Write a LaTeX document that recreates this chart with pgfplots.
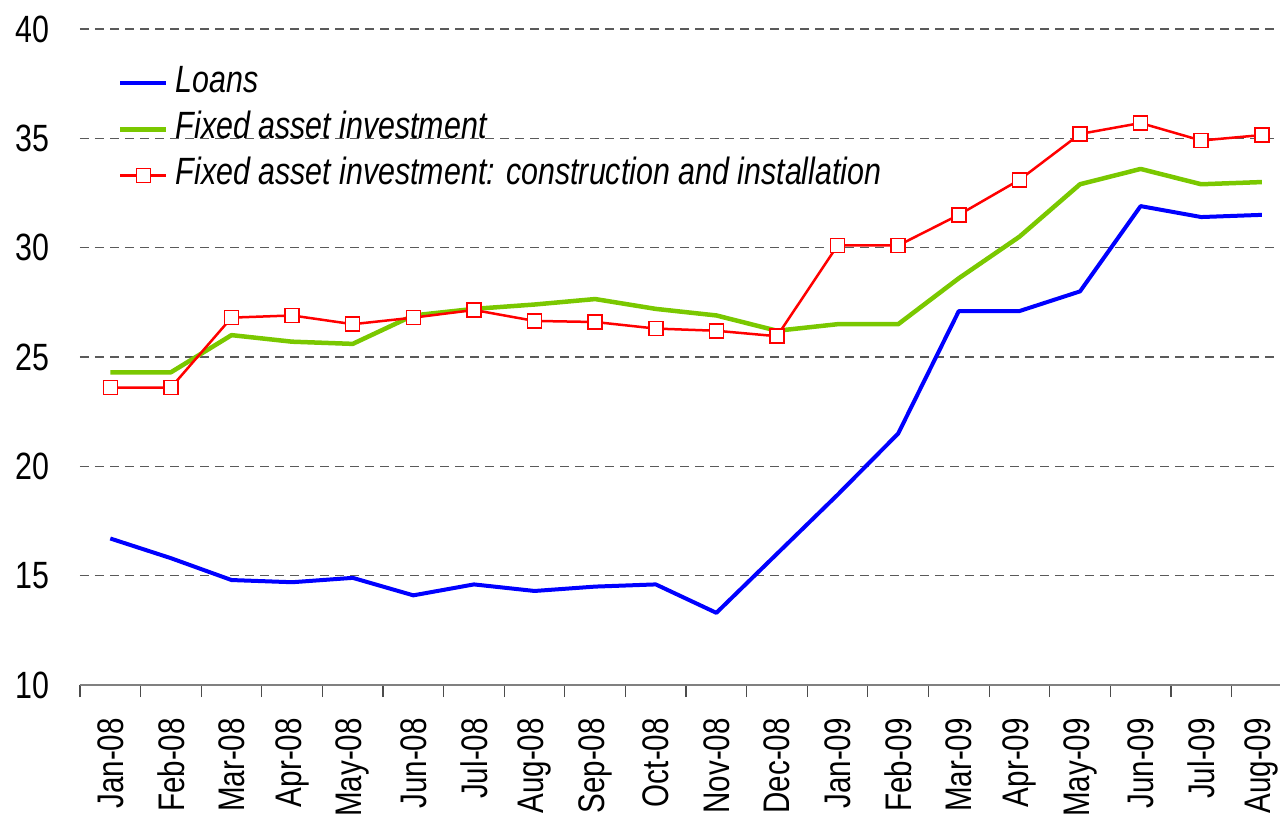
\documentclass[border=0pt]{standalone}
\usepackage{fontspec}
\setmainfont{Liberation Sans}[FakeStretch=0.8]
\usepackage{pgfplots}
\pgfplotsset{compat=1.18}
\definecolor{lblue}{RGB}{0,0,255}
\definecolor{lgreen}{RGB}{122,200,0}
\definecolor{lred}{RGB}{255,0,0}
\definecolor{gridc}{RGB}{90,90,90}
\begin{document}
\begin{tikzpicture}
\begin{axis}[
  at={(80pt,132pt)}, anchor=south west,
  scale only axis, width=1200pt, height=656pt,
  xmin=-0.5, xmax=19.3, ymin=10, ymax=40,
  /pgf/number format/assume math mode=true,
  axis x line*=bottom, axis y line*=left,
  y axis line style={draw=none},
  x axis line style={-, draw=gray, line width=1.5pt},
  ytick={10,15,...,40},
  ymajorgrids, grid style={gridc, dashed, line width=1.1pt, dash pattern=on 9pt off 6pt},
  xtick={0,...,19},
  xticklabels={Jan-08,Feb-08,Mar-08,Apr-08,May-08,Jun-08,Jul-08,Aug-08,Sep-08,Oct-08,Nov-08,Dec-08,Jan-09,Feb-09,Mar-09,Apr-09,May-09,Jun-09,Jul-09,Aug-09},
  minor xtick={-0.5,0.5,...,18.5},
  major tick length=0pt, minor tick length=12pt, tick align=outside,
  minor tick style={black!70, line width=1.2pt},
  yticklabel style={font=\fontsize{38}{40}\selectfont, anchor=east, inner sep=0pt, xshift=-30pt},
  xticklabel style={font=\fontsize{37}{40}\selectfont, yshift=-33pt, rotate=90, anchor=east, inner sep=0pt},
  legend cell align=left,
  legend style={at={(0.0317,0.947)}, anchor=north west, draw=none, fill=none, inner sep=0pt,
    row sep=7pt,
    nodes={inner sep=2pt, text height=27pt, text depth=8pt, font=\fontsize{38}{40}\selectfont\itshape},
    /tikz/every odd column/.append style={column sep=5pt}},
  legend image code/.code={\draw[mark repeat=2,mark phase=2,#1] plot coordinates {(0pt,0pt) (23pt,0pt) (46pt,0pt)};},
]
\addplot[lblue, line width=4pt, line join=round] coordinates {
(0,16.7) (1,15.8) (2,14.8) (3,14.7) (4,14.9) (5,14.1) (6,14.6) (7,14.3) (8,14.5) (9,14.6)
(10,13.3) (11,16.0) (12,18.7) (13,21.5) (14,27.1) (15,27.1) (16,28.0) (17,31.9) (18,31.4) (19,31.5)};
\addlegendentry{Loans}
\addplot[lgreen, line width=4.5pt, line join=round] coordinates {
(0,24.3) (1,24.3) (2,26.0) (3,25.7) (4,25.6) (5,26.9) (6,27.2) (7,27.4) (8,27.65) (9,27.2)
(10,26.9) (11,26.2) (12,26.5) (13,26.5) (14,28.6) (15,30.5) (16,32.9) (17,33.6) (18,32.9) (19,33.0)};
\addlegendentry{Fixed asset investment}
\addplot[lred, line width=2.5pt, mark=square*, mark size=7pt, mark options={fill=white, draw=lred, line width=1.5pt}] coordinates {
(0,23.6) (1,23.6) (2,26.8) (3,26.9) (4,26.5) (5,26.8) (6,27.15) (7,26.65) (8,26.6) (9,26.3)
(10,26.2) (11,25.95) (12,30.1) (13,30.1) (14,31.5) (15,33.1) (16,35.2) (17,35.7) (18,34.9) (19,35.15)};
\addlegendentry{Fixed asset investment: construction and installation}
\end{axis}
\pgfresetboundingbox
\useasboundingbox (0,0) rectangle (1280pt,817pt);
\end{tikzpicture}
\end{document}
